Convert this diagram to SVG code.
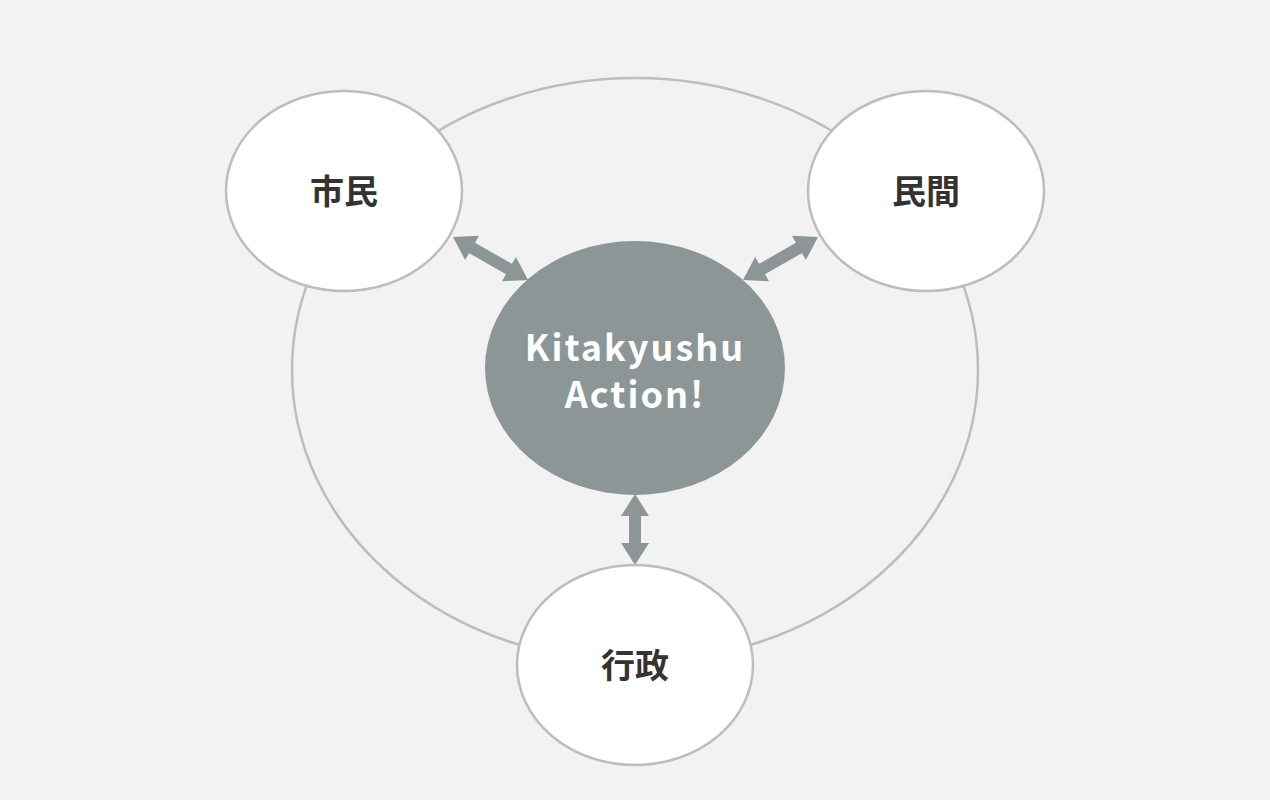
<svg xmlns="http://www.w3.org/2000/svg" width="1270" height="800" viewBox="0 0 1270 800">
<style>
.node{fill:#fff;stroke:#bdbdbd;stroke-width:2.5}
.lbl{font-family:"Noto Sans CJK JP","Noto Sans",sans-serif;font-weight:bold;font-size:34px;fill:#333;text-anchor:middle}
.arr{fill:#8c9696}
</style>
<rect width="1270" height="800" fill="#f2f2f2"/>
<ellipse cx="635" cy="370" rx="343" ry="292" fill="none" stroke="#bdbdbd" stroke-width="2.5"/>
<g id="connectors">
<polygon class="arr" transform="translate(453,237) rotate(29.8)" points="0,0 22,-14 22,-6 64.5,-6 64.5,-14 86.5,0 64.5,14 64.5,6 22,6 22,14"/>
<polygon class="arr" transform="translate(818,237) rotate(150.2)" points="0,0 22,-14 22,-6 64.5,-6 64.5,-14 86.5,0 64.5,14 64.5,6 22,6 22,14"/>
<polygon class="arr" transform="translate(635,494) rotate(90)" points="0,0 22,-14 22,-6 49,-6 49,-14 71,0 49,14 49,6 22,6 22,14"/>
</g>
<g id="shimin"><ellipse class="node" cx="344" cy="191" rx="118" ry="100"/><text class="lbl" x="344" y="204">市民</text></g>
<g id="minkan"><ellipse class="node" cx="926" cy="191" rx="118" ry="100"/><text class="lbl" x="926" y="204">民間</text></g>
<g id="gyosei"><ellipse class="node" cx="635" cy="665" rx="118" ry="100"/><text class="lbl" x="635" y="678">行政</text></g>
<g id="center"><ellipse cx="635" cy="368" rx="150" ry="127" fill="#8c9696"/>
<text font-family="'Noto Sans CJK JP','Noto Sans',sans-serif" font-weight="bold" font-size="36" fill="#fff" text-anchor="middle" letter-spacing="2"><tspan x="635" y="361">Kitakyushu</tspan><tspan x="635" y="408">Action!</tspan></text></g>
</svg>
